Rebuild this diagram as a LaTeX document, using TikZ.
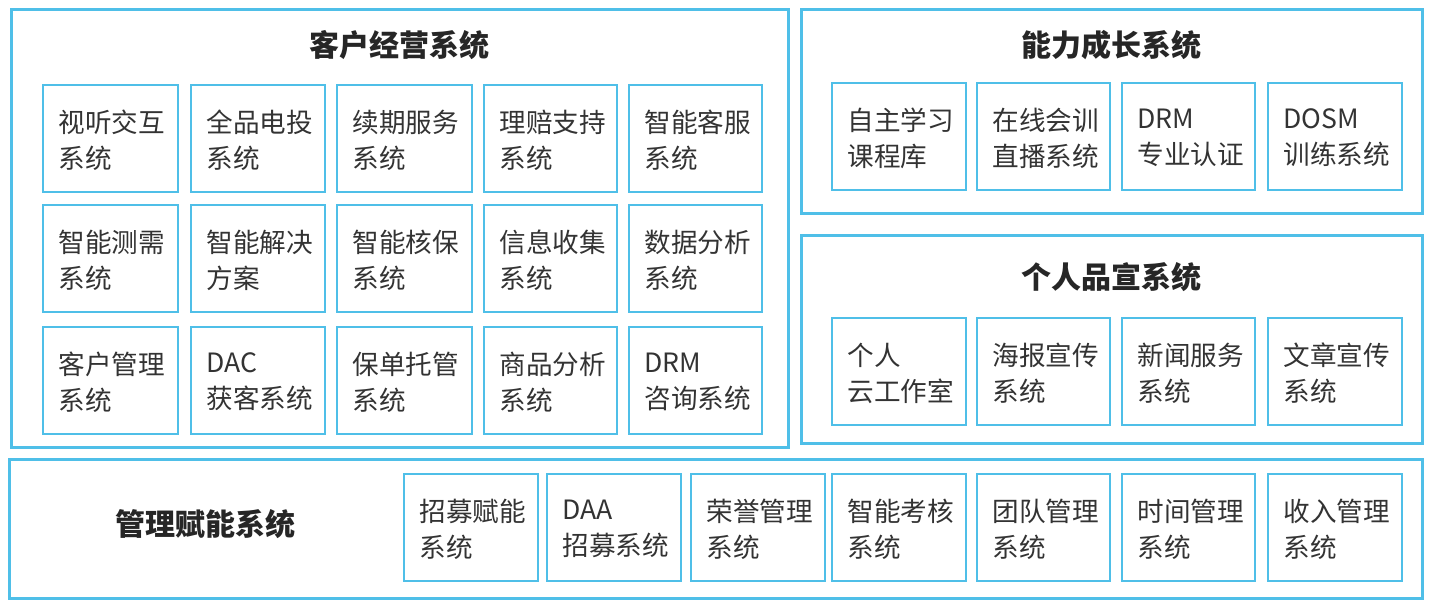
\documentclass[tikz,border=0pt]{standalone}
\usepackage{fontspec}
\setmainfont{Noto Sans CJK SC}
\definecolor{bl}{HTML}{4FBFE8}
\definecolor{tx}{HTML}{333333}
\begin{document}
\begin{tikzpicture}[x=0.5pt,y=-0.5pt,
  outer/.style={draw=bl,line width=1.5pt},
  inner/.style={draw=bl,line width=1.2pt},
  itm/.style={anchor=west,inner sep=0pt,align=left,text=tx,font=\fontsize{13.3}{18}\selectfont},
  ttl/.style={inner sep=0pt,text=black!85,font=\fontsize{15}{18}\selectfont\bfseries}]
\useasboundingbox (0,0) rectangle (1434,607);
\draw[outer] (11,9) rectangle (788,447);
\draw[outer] (801,9) rectangle (1422,213);
\draw[outer] (801,235) rectangle (1422,443);
\draw[outer] (9,459) rectangle (1422,598);
\node[ttl] (tA) at (399,45) {客户经营系统};
\node[ttl] (tB) at (1111,45) {能力成长系统};
\node[ttl] (tC) at (1111,277) {个人品宣系统};
\node[ttl] (tD) at (205,524) {管理赋能系统};
% box macro: x0, x1, y0, y1, name, text
\foreach \xa/\xb/\ya/\yb/\n/\t in {
 43/178/85/192/a1/{视听交互\\系统},
 191/325/85/192/a2/{全品电投\\系统},
 337/472/85/192/a3/{续期服务\\系统},
 484/617/85/192/a4/{理赔支持\\系统},
 629/762/85/192/a5/{智能客服\\系统},
 43/178/205/312/a6/{智能测需\\系统},
 191/325/205/312/a7/{智能解决\\方案},
 337/472/205/312/a8/{智能核保\\系统},
 484/617/205/312/a9/{信息收集\\系统},
 629/762/205/312/a10/{数据分析\\系统},
 43/178/327/434/a11/{客户管理\\系统},
 191/325/327/434/a12/{DAC\\获客系统},
 337/472/327/434/a13/{保单托管\\系统},
 484/617/327/434/a14/{商品分析\\系统},
 629/762/327/434/a15/{DRM\\咨询系统},
 832/966/83/190/b1/{自主学习\\课程库},
 977/1110/83/190/b2/{在线会训\\直播系统},
 1122/1255/83/190/b3/{DRM\\专业认证},
 1268/1402/83/190/b4/{DOSM\\训练系统},
 832/966/318/425/c1/{个人\\云工作室},
 977/1110/318/425/c2/{海报宣传\\系统},
 1122/1255/318/425/c3/{新闻服务\\系统},
 1268/1402/318/425/c4/{文章宣传\\系统},
 404/538/474/581/d1/{招募赋能\\系统},
 547/681/474/581/d2/{DAA\\招募系统},
 691/825/474/581/d3/{荣誉管理\\系统},
 832/966/474/581/d4/{智能考核\\系统},
 977/1110/474/581/d5/{团队管理\\系统},
 1122/1255/474/581/d6/{时间管理\\系统},
 1268/1402/474/581/d7/{收入管理\\系统}} {
  \draw[inner] (\xa,\ya) rectangle (\xb,\yb);
  \node[itm] (\n) at (\xa+15,\ya+55) {\t};
}
\end{tikzpicture}
\end{document}
